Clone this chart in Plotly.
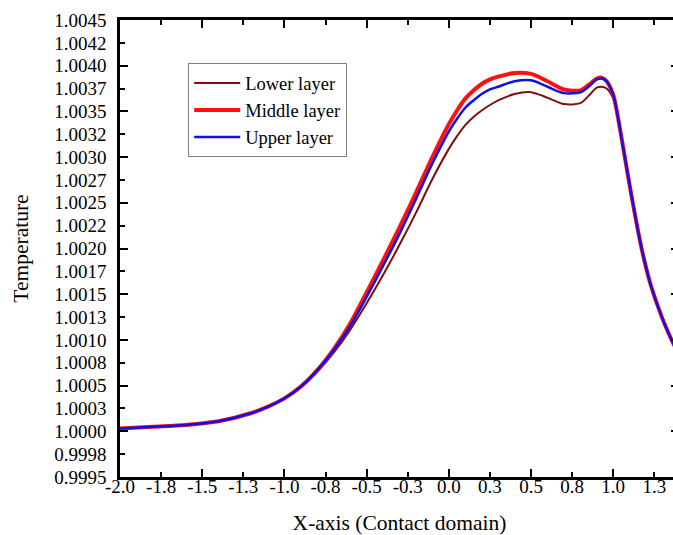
import plotly.graph_objects as go

# Position along the contact domain
x_pos = [-2.0, -1.8, -1.6, -1.4, -1.2, -1.1, -1.0, -0.9, -0.8, -0.7, -0.6, -0.5, -0.4,
         -0.3, -0.2, -0.1, 0.0, 0.05, 0.1, 0.15, 0.2, 0.25, 0.3, 0.4, 0.5, 0.6, 0.7,
         0.8, 0.85, 0.9, 0.93, 0.96, 1.0, 1.02, 1.04, 1.06, 1.08, 1.1, 1.125, 1.15,
         1.175, 1.2, 1.225, 1.25, 1.275, 1.3, 1.33, 1.36, 1.4]

lower_layer = [1.00003, 1.00005, 1.00007, 1.00011, 1.00020, 1.00027, 1.00036, 1.00048,
               1.00065, 1.00086, 1.00111, 1.00140, 1.00171, 1.00204, 1.00239, 1.00276,
               1.00309, 1.00323, 1.00335, 1.00344, 1.00351, 1.00357, 1.00362, 1.00369,
               1.00371, 1.00365, 1.00358, 1.00359, 1.00367, 1.00376, 1.00377, 1.00375,
               1.00364, 1.00351, 1.00332, 1.00311, 1.00290, 1.00269, 1.00244, 1.00220,
               1.00198, 1.00179, 1.00162, 1.00148, 1.00135, 1.00123, 1.00110, 1.00098,
               1.00084]

middle_layer = [1.00003, 1.00005, 1.00007, 1.00011, 1.00020, 1.00027, 1.00036, 1.00049,
                1.00067, 1.00090, 1.00118, 1.00152, 1.00187, 1.00223, 1.00261, 1.00300,
                1.00336, 1.00351, 1.00364, 1.00373, 1.00380, 1.00385, 1.00388, 1.00392,
                1.00391, 1.00383, 1.00374, 1.00373, 1.00379, 1.00386, 1.00387, 1.00383,
                1.00368, 1.00352, 1.00332, 1.00311, 1.00290, 1.00269, 1.00244, 1.00220,
                1.00198, 1.00179, 1.00162, 1.00148, 1.00135, 1.00123, 1.00110, 1.00098,
                1.00084]

upper_layer = [1.00003, 1.00005, 1.00007, 1.00011, 1.00020, 1.00027, 1.00036, 1.00049,
               1.00067, 1.00089, 1.00115, 1.00147, 1.00181, 1.00216, 1.00254, 1.00293,
               1.00328, 1.00342, 1.00354, 1.00362, 1.00369, 1.00374, 1.00377, 1.00383,
               1.00384, 1.00377, 1.00370, 1.00371, 1.00377, 1.00385, 1.00386, 1.00383,
               1.00368, 1.00352, 1.00332, 1.00311, 1.00290, 1.00269, 1.00244, 1.00220,
               1.00198, 1.00179, 1.00162, 1.00148, 1.00135, 1.00123, 1.00110, 1.00098,
               1.00084]

# Tick values and their printed labels
x_tickvals = [-2.0, -1.75, -1.5, -1.25, -1.0, -0.75, -0.5, -0.25, 0.0, 0.25, 0.5, 0.75, 1.0, 1.25]
x_ticktext = ["-2.0", "-1.8", "-1.5", "-1.3", "-1.0", "-0.8", "-0.5", "-0.3", "0.0", "0.3",
              "0.5", "0.8", "1.0", "1.3"]
y_tickvals = [0.9995, 0.99975, 1.0, 1.00025, 1.0005, 1.00075, 1.001, 1.00125, 1.0015,
              1.00175, 1.002, 1.00225, 1.0025, 1.00275, 1.003, 1.00325, 1.0035, 1.00375,
              1.004, 1.00425, 1.0045]
y_ticktext = ["0.9995", "0.9998", "1.0000", "1.0003", "1.0005", "1.0008", "1.0010", "1.0013",
              "1.0015", "1.0017", "1.0020", "1.0022", "1.0025", "1.0027", "1.0030", "1.0032",
              "1.0035", "1.0037", "1.0040", "1.0042", "1.0045"]

X_RANGE = [-2.0, 1.4]
Y_RANGE = [0.9995, 1.0045]
SERIF = "Liberation Serif, Times New Roman, serif"

fig = go.Figure()
fig.add_trace(go.Scatter(x=x_pos, y=lower_layer, name="Lower layer", mode="lines",
                         line=dict(color="#7f0f0f", width=2, shape="spline", smoothing=0.8)))
fig.add_trace(go.Scatter(x=x_pos, y=middle_layer, name="Middle layer", mode="lines",
                         line=dict(color="#ff1010", width=4, shape="spline", smoothing=0.8)))
fig.add_trace(go.Scatter(x=x_pos, y=upper_layer, name="Upper layer", mode="lines",
                         line=dict(color="#1010e6", width=2.5, shape="spline", smoothing=0.8)))

# Labelled ticks (short) on the primary axes
fig.update_xaxes(range=X_RANGE, tickvals=x_tickvals, ticktext=x_ticktext,
                 ticks="inside", ticklen=5, tickwidth=2, tickcolor="black",
                 showline=True, linewidth=2.5, linecolor="black", mirror="ticks",
                 showgrid=False, zeroline=False, ticklabelstandoff=-10, automargin=False,
                 tickfont=dict(family=SERIF, size=19, color="black"),
                 title=dict(text="X-axis (Contact domain)",
                            font=dict(family=SERIF, size=21.5, color="black"), standoff=25))
fig.update_yaxes(range=Y_RANGE, tickvals=y_tickvals, ticktext=y_ticktext,
                 ticks="inside", ticklen=5, tickwidth=2, tickcolor="black",
                 showline=True, linewidth=2.5, linecolor="black", mirror="ticks",
                 showgrid=False, zeroline=False, ticklabelstandoff=7, automargin=False,
                 tickfont=dict(family=SERIF, size=19, color="black"),
                 title=dict(text="Temperature",
                            font=dict(family=SERIF, size=21.5, color="black"), standoff=20))

# Longer major ticks drawn by overlaid, label-free axes
fig.update_layout(
    xaxis2=dict(overlaying="x", anchor="y", side="bottom", range=X_RANGE,
                tick0=-2.0, dtick=0.5, ticks="inside", ticklen=8, tickwidth=2,
                tickcolor="black", showticklabels=False, showline=False,
                mirror="ticks", showgrid=False, zeroline=False, automargin=False),
    yaxis2=dict(overlaying="y", anchor="x", side="left", range=Y_RANGE,
                tick0=1.0, dtick=0.0005, ticks="inside", ticklen=8, tickwidth=2,
                tickcolor="black", showticklabels=False, showline=False,
                mirror="ticks", showgrid=False, zeroline=False, automargin=False),
)
fig.add_trace(go.Scatter(x=[None], y=[None], xaxis="x2", yaxis="y2",
                         showlegend=False, hoverinfo="skip"))

fig.update_layout(
    width=700, height=535,
    margin=dict(l=120, r=21, t=20, b=58),
    paper_bgcolor="white", plot_bgcolor="white",
    legend=dict(x=0.122, y=0.905, xanchor="left", yanchor="top",
                bordercolor="#808080", borderwidth=1, bgcolor="white",
                itemwidth=46,
                font=dict(family=SERIF, size=18.5, color="black")),
    showlegend=True,
)

fig.write_html("out.html",
               post_script="document.documentElement.style.overflow='hidden';"
                           "document.body.style.overflow='hidden';"
                           "document.body.style.margin='0';")
